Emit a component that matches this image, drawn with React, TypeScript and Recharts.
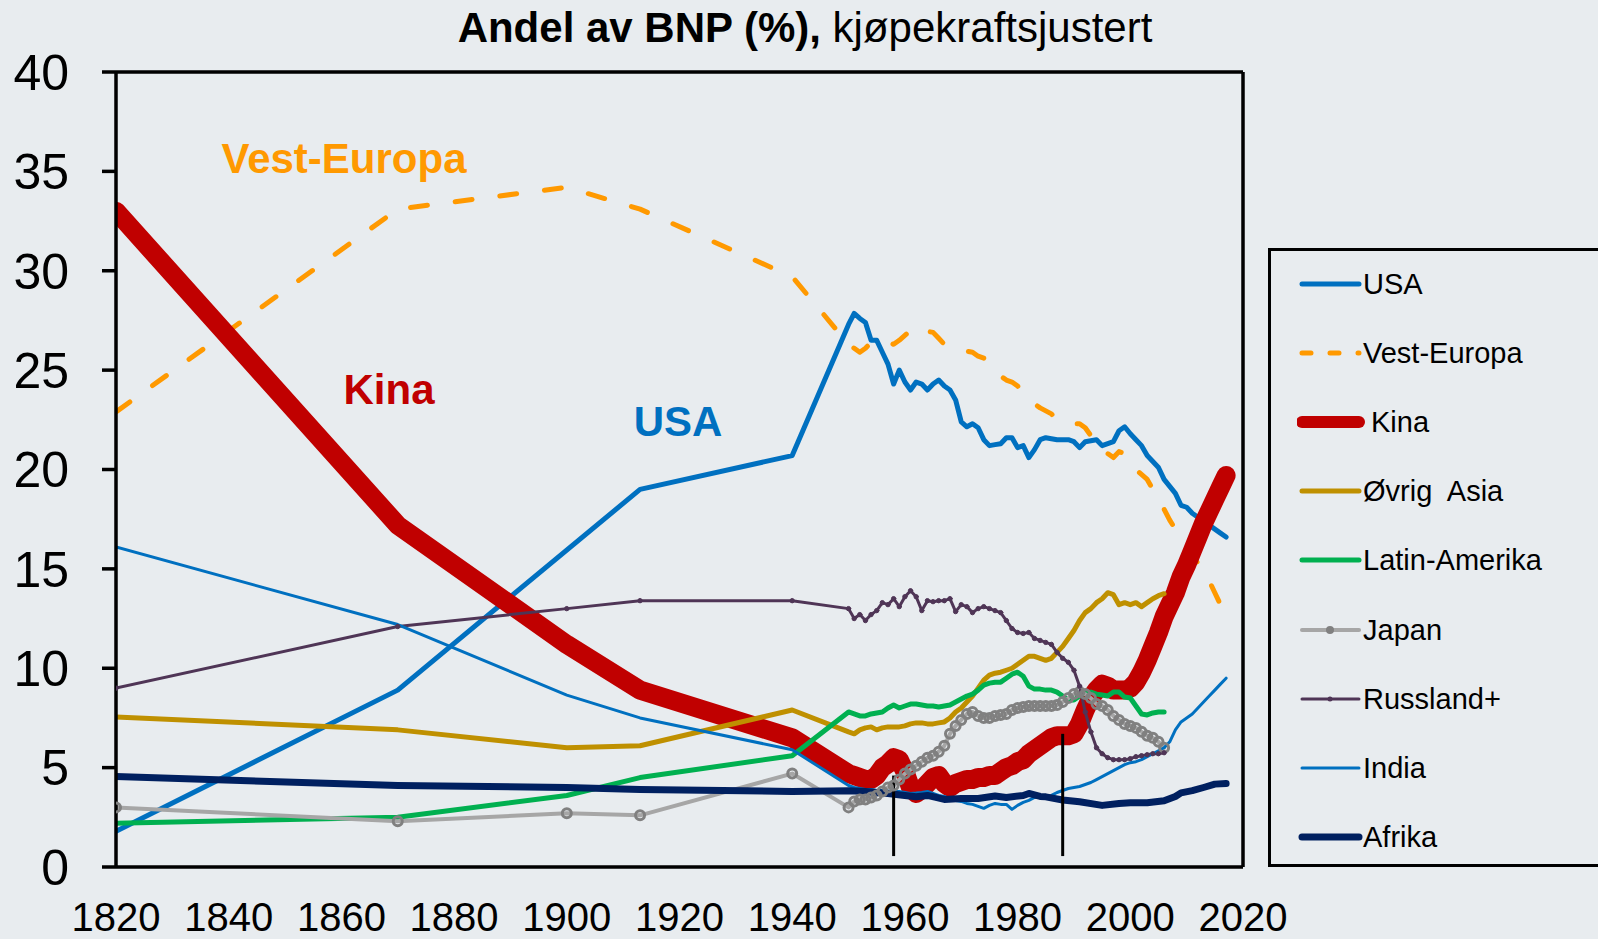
import React from "react";
import { LineChart, Line, XAxis, YAxis, ReferenceLine } from "recharts";

document.body.style.margin = "0";

const BG = "#E8ECEF";
const FONT = "'Liberation Sans', Arial, Helvetica, sans-serif";

type Pt = [number, number];

const X_TICKS = [1820, 1840, 1860, 1880, 1900, 1920, 1940, 1960, 1980, 2000, 2020];
const Y_TICKS = [0, 5, 10, 15, 20, 25, 30, 35, 40];

const usa: Pt[] = [
  [1820, 1.8], [1870, 8.9], [1913, 19.0], [1940, 20.7],
  [1950, 27.3], [1951, 27.85], [1952, 27.6], [1953, 27.4], [1954, 26.5], [1955, 26.5],
  [1956, 25.9], [1957, 25.3], [1958, 24.3], [1959, 25.0], [1960, 24.4], [1961, 24.0],
  [1962, 24.4], [1963, 24.3], [1964, 24.0], [1965, 24.3], [1966, 24.5], [1967, 24.2],
  [1968, 24.0], [1969, 23.5], [1970, 22.4], [1971, 22.15], [1972, 22.3], [1973, 22.1],
  [1974, 21.5], [1975, 21.2], [1976, 21.25], [1977, 21.3], [1978, 21.6], [1979, 21.6],
  [1980, 21.1], [1981, 21.2], [1982, 20.6], [1983, 21.0], [1984, 21.5], [1985, 21.6],
  [1986, 21.55], [1987, 21.5], [1988, 21.5], [1989, 21.5], [1990, 21.4], [1991, 21.1],
  [1992, 21.4], [1993, 21.45], [1994, 21.5], [1995, 21.2], [1996, 21.3], [1997, 21.4],
  [1998, 21.95], [1999, 22.15], [2000, 21.8], [2001, 21.5], [2002, 21.2], [2003, 20.7],
  [2004, 20.4], [2005, 20.1], [2006, 19.5], [2007, 19.15], [2008, 18.8], [2009, 18.2],
  [2010, 18.1], [2011, 17.8], [2012, 17.6], [2013, 17.45], [2014, 17.2], [2015, 17.0],
  [2016, 16.8], [2017, 16.6],
];

const vestEuropa: Pt[] = [
  [1820, 22.9], [1870, 33.1], [1900, 34.2], [1913, 33.1], [1940, 29.7],
  [1950, 26.3], [1951, 26.1], [1952, 25.9], [1953, 26.1], [1954, 26.4], [1956, 26.5],
  [1958, 26.3], [1959, 26.5], [1961, 27.0], [1962, 27.2], [1963, 27.0], [1965, 26.9],
  [1966, 26.6], [1967, 26.3], [1968, 26.3], [1970, 26.0], [1972, 25.9], [1973, 25.7],
  [1974, 25.6], [1975, 25.4], [1976, 25.0], [1977, 24.7], [1978, 24.5], [1979, 24.4],
  [1980, 24.2], [1981, 23.9], [1982, 23.5], [1984, 23.1], [1986, 22.8], [1987, 22.5],
  [1989, 22.4], [1990, 22.3], [1991, 22.3], [1992, 22.1], [1993, 21.7], [1994, 21.6],
  [1995, 21.1], [1996, 20.8], [1997, 20.6], [1998, 20.9], [1999, 20.8], [2000, 20.5],
  [2001, 20.0], [2003, 19.5], [2005, 18.5], [2006, 18.0], [2007, 17.45], [2008, 17.0],
  [2009, 16.4], [2010, 16.0], [2011, 15.6], [2012, 15.3], [2014, 14.4], [2015, 13.8],
  [2016, 13.2], [2017, 12.6],
];

const kina: Pt[] = [
  [1820, 33.0], [1870, 17.2], [1900, 11.2], [1913, 8.9], [1940, 6.5],
  [1950, 4.7], [1951, 4.6], [1952, 4.5], [1953, 4.4], [1954, 4.4], [1955, 4.6],
  [1956, 5.0], [1957, 5.2], [1958, 5.5], [1959, 5.4], [1960, 4.8], [1961, 4.0],
  [1962, 3.7], [1963, 3.9], [1964, 4.2], [1965, 4.5], [1966, 4.6], [1967, 4.2],
  [1968, 4.0], [1969, 4.2], [1970, 4.3], [1971, 4.4], [1972, 4.4], [1973, 4.5],
  [1974, 4.5], [1975, 4.6], [1976, 4.6], [1977, 4.8], [1978, 5.0], [1979, 5.1],
  [1980, 5.3], [1981, 5.4], [1982, 5.7], [1983, 5.9], [1984, 6.1], [1985, 6.3],
  [1986, 6.5], [1987, 6.6], [1988, 6.6], [1989, 6.6], [1990, 6.7], [1991, 7.2],
  [1992, 7.9], [1993, 8.5], [1994, 8.9], [1995, 9.2], [1996, 9.1], [1997, 8.9],
  [1998, 8.9], [1999, 8.9], [2000, 9.0], [2001, 9.3], [2002, 9.8], [2003, 10.4],
  [2004, 11.1], [2005, 11.8], [2006, 12.6], [2007, 13.2], [2008, 13.8], [2009, 14.6],
  [2010, 15.2], [2011, 15.9], [2012, 16.6], [2013, 17.3], [2014, 17.9], [2015, 18.5],
  [2016, 19.1], [2017, 19.7],
];

const ovrigAsia: Pt[] = [
  [1820, 7.55], [1870, 6.9], [1900, 6.0], [1913, 6.1], [1940, 7.9],
  [1950, 6.8], [1951, 6.7], [1952, 6.9], [1953, 7.0], [1954, 7.05], [1955, 6.9],
  [1956, 7.0], [1957, 7.05], [1958, 7.05], [1959, 7.05], [1960, 7.1], [1961, 7.2],
  [1962, 7.25], [1963, 7.25], [1964, 7.2], [1965, 7.2], [1966, 7.25], [1967, 7.3],
  [1968, 7.5], [1969, 7.8], [1970, 8.0], [1971, 8.3], [1972, 8.6], [1973, 9.0],
  [1974, 9.4], [1975, 9.65], [1976, 9.75], [1977, 9.8], [1978, 9.9], [1979, 10.0],
  [1980, 10.2], [1981, 10.4], [1982, 10.6], [1983, 10.6], [1984, 10.5], [1985, 10.4],
  [1986, 10.5], [1987, 10.8], [1988, 11.1], [1989, 11.5], [1990, 11.9], [1991, 12.4],
  [1992, 12.8], [1993, 13.0], [1994, 13.3], [1995, 13.5], [1996, 13.8], [1997, 13.7],
  [1998, 13.2], [1999, 13.3], [2000, 13.2], [2001, 13.3], [2002, 13.1], [2003, 13.3],
  [2004, 13.5], [2005, 13.65], [2006, 13.75],
];

const latinAmerika: Pt[] = [
  [1820, 2.2], [1870, 2.5], [1900, 3.6], [1913, 4.5], [1940, 5.6],
  [1950, 7.8], [1951, 7.7], [1952, 7.6], [1953, 7.6], [1954, 7.7], [1955, 7.75],
  [1956, 7.8], [1957, 8.0], [1958, 8.15], [1959, 8.0], [1960, 8.1], [1961, 8.2],
  [1962, 8.2], [1963, 8.15], [1964, 8.1], [1965, 8.1], [1966, 8.05], [1967, 8.1],
  [1968, 8.15], [1969, 8.3], [1970, 8.45], [1971, 8.6], [1972, 8.7], [1973, 8.9],
  [1974, 9.15], [1975, 9.25], [1976, 9.3], [1977, 9.3], [1978, 9.5], [1979, 9.7],
  [1980, 9.8], [1981, 9.6], [1982, 9.1], [1983, 8.95], [1984, 8.95], [1985, 8.9],
  [1986, 8.9], [1987, 8.8], [1988, 8.6], [1989, 8.4], [1990, 8.4], [1991, 8.6],
  [1992, 8.75], [1993, 8.8], [1994, 8.7], [1995, 8.65], [1996, 8.6], [1997, 8.8],
  [1998, 8.8], [1999, 8.55], [2000, 8.5], [2001, 8.1], [2002, 7.7], [2003, 7.65],
  [2004, 7.75], [2005, 7.8], [2006, 7.8],
];

const japan: Pt[] = [
  [1820, 3.0], [1870, 2.3], [1900, 2.7], [1913, 2.6], [1940, 4.7],
  [1950, 3.0], [1951, 3.3], [1952, 3.4], [1953, 3.4], [1954, 3.5], [1955, 3.6],
  [1956, 3.8], [1957, 4.0], [1958, 4.1], [1959, 4.4], [1960, 4.7], [1961, 4.9],
  [1962, 5.1], [1963, 5.3], [1964, 5.5], [1965, 5.6], [1966, 5.8], [1967, 6.1],
  [1968, 6.7], [1969, 7.1], [1970, 7.4], [1971, 7.7], [1972, 7.8], [1973, 7.6],
  [1974, 7.5], [1975, 7.5], [1976, 7.6], [1977, 7.65], [1978, 7.7], [1979, 7.9],
  [1980, 8.0], [1981, 8.05], [1982, 8.1], [1983, 8.1], [1984, 8.1], [1985, 8.1],
  [1986, 8.1], [1987, 8.15], [1988, 8.3], [1989, 8.5], [1990, 8.7], [1991, 8.8],
  [1992, 8.7], [1993, 8.5], [1994, 8.2], [1995, 8.1], [1996, 7.9], [1997, 7.6],
  [1998, 7.4], [1999, 7.2], [2000, 7.1], [2001, 7.0], [2002, 6.8], [2003, 6.6],
  [2004, 6.5], [2005, 6.3], [2006, 6.0],
];

const russland: Pt[] = [
  [1820, 9.0], [1870, 12.1], [1900, 13.0], [1913, 13.4], [1940, 13.4],
  [1950, 13.0], [1951, 12.5], [1952, 12.7], [1953, 12.4], [1954, 12.7], [1955, 12.9],
  [1956, 13.3], [1957, 13.2], [1958, 13.5], [1959, 13.1], [1960, 13.6], [1961, 13.9],
  [1962, 13.6], [1963, 12.9], [1964, 13.4], [1965, 13.35], [1966, 13.4], [1967, 13.4],
  [1968, 13.5], [1969, 12.85], [1970, 13.2], [1971, 13.1], [1972, 12.8], [1973, 13.0],
  [1974, 13.1], [1975, 13.0], [1976, 12.9], [1977, 12.8], [1978, 12.4], [1979, 12.0],
  [1980, 11.8], [1981, 11.75], [1982, 11.8], [1983, 11.5], [1984, 11.4], [1985, 11.3],
  [1986, 11.2], [1987, 10.8], [1988, 10.5], [1989, 10.3], [1990, 9.9], [1991, 9.1],
  [1992, 7.8], [1993, 6.8], [1994, 6.0], [1995, 5.7], [1996, 5.5], [1997, 5.4],
  [1998, 5.4], [1999, 5.4], [2000, 5.45], [2001, 5.55], [2002, 5.6], [2003, 5.65],
  [2004, 5.7], [2005, 5.7], [2006, 5.75],
];

const india: Pt[] = [
  [1820, 16.1], [1870, 12.2], [1900, 8.65], [1913, 7.5], [1940, 5.9],
  [1950, 4.1], [1951, 4.0], [1952, 3.95], [1953, 3.9], [1954, 3.9], [1955, 3.85],
  [1956, 3.85], [1957, 3.82], [1958, 3.8], [1959, 3.8], [1960, 3.75], [1961, 3.7],
  [1962, 3.72], [1963, 3.75], [1964, 3.8], [1965, 3.7], [1966, 3.6], [1967, 3.55],
  [1968, 3.4], [1969, 3.35], [1970, 3.3], [1971, 3.2], [1972, 3.15], [1973, 3.05],
  [1974, 2.95], [1975, 3.1], [1976, 3.2], [1977, 3.15], [1978, 3.15], [1979, 2.9],
  [1980, 3.1], [1981, 3.25], [1982, 3.35], [1983, 3.5], [1984, 3.5], [1985, 3.5],
  [1986, 3.6], [1987, 3.75], [1988, 3.85], [1989, 3.95], [1990, 4.0], [1991, 4.05],
  [1992, 4.15], [1993, 4.25], [1994, 4.4], [1995, 4.55], [1996, 4.7], [1997, 4.85],
  [1998, 5.0], [1999, 5.15], [2000, 5.25], [2001, 5.3], [2002, 5.4], [2003, 5.55],
  [2004, 5.7], [2005, 5.85], [2006, 6.0], [2007, 6.3], [2008, 6.9], [2009, 7.3],
  [2010, 7.5], [2011, 7.7], [2012, 8.0], [2013, 8.3], [2014, 8.6], [2015, 8.9],
  [2016, 9.2], [2017, 9.5],
];

const afrika: Pt[] = [
  [1820, 4.55], [1870, 4.1], [1900, 4.0], [1913, 3.9], [1940, 3.8],
  [1950, 3.84], [1953, 3.8], [1957, 3.7], [1960, 3.6], [1962, 3.53], [1964, 3.6],
  [1967, 3.4], [1970, 3.45], [1973, 3.45], [1976, 3.57], [1978, 3.5], [1981, 3.6],
  [1982, 3.7], [1984, 3.55], [1985, 3.53], [1988, 3.37], [1991, 3.28], [1995, 3.1],
  [1998, 3.2], [2000, 3.23], [2003, 3.23], [2006, 3.33], [2008, 3.55], [2009, 3.73],
  [2011, 3.84], [2013, 4.0], [2015, 4.17], [2017, 4.2],
];

// black marker lines in the chart (year, from, to)
const MARKERS: [number, number, number][] = [
  [1958, 0.55, 4.6],
  [1988, 0.55, 6.7],
];

const rows = (pts: Pt[]) => pts.map(([year, v]) => ({ year, v }));

type Series = {
  name: string;
  pts: Pt[];
  color: string;
  width: number;
  dash?: string;
  dot?: any;
};

const SERIES: Series[] = [
  { name: "USA", pts: usa, color: "#0070C0", width: 5 },
  { name: "Vest-Europa", pts: vestEuropa, color: "#FF9900", width: 5, dash: "17 28" },
  { name: "Kina", pts: kina, color: "#C00000", width: 19 },
  { name: "Øvrig  Asia", pts: ovrigAsia, color: "#BF9000", width: 5 },
  { name: "Latin-Amerika", pts: latinAmerika, color: "#00B050", width: 5 },
  {
    name: "Japan",
    pts: japan,
    color: "#A6A6A6",
    width: 4,
    dot: { r: 4.5, stroke: "#808080", strokeWidth: 3, fill: "none" },
  },
  {
    name: "Russland+",
    pts: russland,
    color: "#4F3556",
    width: 3,
    dot: { r: 2.2, stroke: "#4F3556", strokeWidth: 1, fill: "#4F3556" },
  },
  { name: "India", pts: india, color: "#0070C0", width: 3 },
  { name: "Afrika", pts: afrika, color: "#002060", width: 7 },
];

const LEGEND_WIDTH: Record<string, number> = { Kina: 12 };

function LegendBox() {
  return (
    <div
      style={{
        position: "absolute",
        left: 1268,
        top: 248,
        width: 340,
        height: 619,
        boxSizing: "border-box",
        border: "3.5px solid #000",
      }}
    >
      {SERIES.map((s, i) => {
        const cy = 33 + i * 69.1;
        const w = LEGEND_WIDTH[s.name] ?? s.width;
        return (
          <div key={s.name}>
            <svg
              width={70}
              height={30}
              style={{ position: "absolute", left: 26, top: cy - 15 }}
            >
              <line
                x1={5}
                x2={62}
                y1={15}
                y2={15}
                stroke={s.color}
                strokeWidth={w}
                strokeLinecap="round"
                strokeDasharray={s.dash ? "9 19" : undefined}
              />
              {s.name === "Japan" && <circle cx={33} cy={15} r={4} fill="#808080" />}
              {s.name === "Russland+" && <circle cx={33} cy={15} r={2.5} fill={s.color} />}
            </svg>
            <div
              style={{
                position: "absolute",
                left: s.name === "Kina" ? 100 : 92,
                top: cy - 15,
                height: 30,
                lineHeight: "30px",
                fontSize: 29,
                fontFamily: FONT,
                color: "#000",
                whiteSpace: "pre",
              }}
            >
              {s.name}
            </div>
          </div>
        );
      })}
    </div>
  );
}

const note = (text: string, color: string, cx: number, cy: number) => (
  <div
    style={{
      position: "absolute",
      left: cx,
      top: cy - 20.5,
      transform: "translateX(-50%)",
      fontFamily: FONT,
      fontWeight: "bold",
      fontSize: 42,
      lineHeight: "42px",
      color,
      whiteSpace: "nowrap",
    }}
  >
    {text}
  </div>
);

export default function App() {
  return (
    <div
      style={{
        position: "relative",
        width: 1598,
        height: 939,
        background: BG,
        overflow: "hidden",
        fontFamily: FONT,
      }}
    >
      <div
        style={{
          position: "absolute",
          left: 0,
          top: 7,
          width: 1610,
          textAlign: "center",
          fontSize: 42,
          lineHeight: "42px",
          color: "#000",
          whiteSpace: "nowrap",
        }}
      >
        <span style={{ fontWeight: "bold" }}>Andel av BNP (%),</span> kjøpekraftsjustert
      </div>

      <LineChart
        width={1598}
        height={939}
        margin={{ top: 72, right: 355, bottom: 0, left: 0 }}
        style={{ position: "absolute", left: 0, top: 0 }}
      >
        <XAxis
          type="number"
          dataKey="year"
          domain={[1820, 2020]}
          ticks={X_TICKS}
          allowDataOverflow
          height={72}
          tickLine={false}
          tickSize={0}
          tickMargin={36}
          axisLine={{ stroke: "#000", strokeWidth: 3.5 }}
          tick={{ fontSize: 40, fill: "#000", fontFamily: FONT }}
        />
        <YAxis
          type="number"
          domain={[0, 40]}
          ticks={Y_TICKS}
          allowDataOverflow
          width={116}
          tickSize={14}
          tickMargin={33}
          axisLine={{ stroke: "#000", strokeWidth: 3.5 }}
          tickLine={{ stroke: "#000", strokeWidth: 3.5 }}
          tick={{ fontSize: 50, fill: "#000", fontFamily: FONT }}
        />
        <ReferenceLine y={40} stroke="#000" strokeWidth={3.5} />
        <ReferenceLine x={2020} stroke="#000" strokeWidth={3.5} />
        {SERIES.map((s) => (
          <Line
            key={s.name}
            data={rows(s.pts)}
            dataKey="v"
            name={s.name}
            type="linear"
            stroke={s.color}
            strokeWidth={s.width}
            strokeDasharray={s.dash}
            strokeLinecap="round"
            strokeLinejoin="round"
            dot={s.dot ?? false}
            activeDot={false}
            isAnimationActive={false}
          />
        ))}
        {MARKERS.map(([yr, y0, y1]) => (
          <ReferenceLine
            key={yr}
            segment={[
              { x: yr, y: y0 },
              { x: yr, y: y1 },
            ]}
            stroke="#000"
            strokeWidth={3}
          />
        ))}
      </LineChart>

      {note("Vest-Europa", "#FF9900", 344, 158)}
      {note("Kina", "#C00000", 389, 389)}
      {note("USA", "#0070C0", 678, 421)}

      <LegendBox />
    </div>
  );
}
